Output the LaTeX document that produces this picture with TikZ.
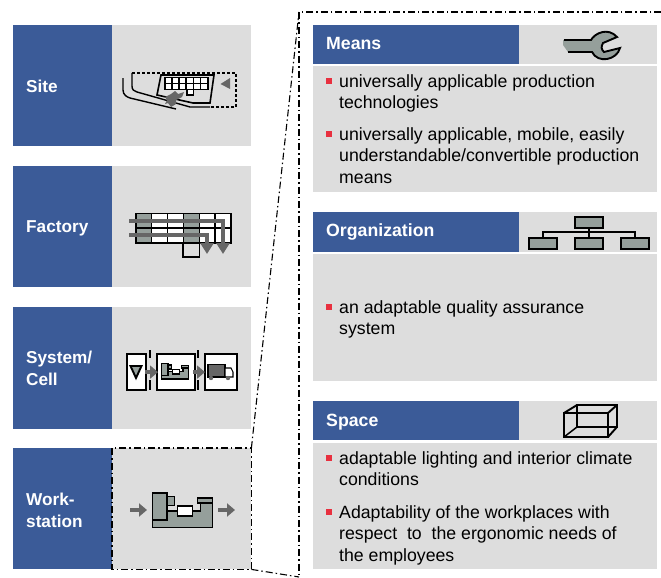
\documentclass[tikz,border=0pt]{standalone}
\usepackage{fontspec}
\setmainfont{Liberation Sans}
\usetikzlibrary{arrows.meta}
\definecolor{panelblue}{HTML}{3B5B98}
\definecolor{panelgrey}{HTML}{DDDDDD}
\definecolor{icongrey}{HTML}{959F9B}
\definecolor{arrowgrey}{HTML}{666666}
\definecolor{bulletred}{HTML}{E8303F}
\tikzset{
  bluebox/.style = {fill = panelblue, anchor = north west, inner sep = 0pt},
  greybox/.style = {fill = panelgrey, anchor = north west, inner sep = 0pt},
  sidelabel/.style = {anchor = west, inner sep = 0pt, align = left, text = white, font = \fontsize{17.2}{22}\selectfont\bfseries},
  headlabel/.style = {anchor = west, inner sep = 0pt, text = white, font = \fontsize{17.7}{20}\selectfont\bfseries},
  bodytext/.style = {anchor = north west, inner sep = 0pt, align = left, font = \fontsize{17.7}{21.8}\selectfont},
  bulletmark/.style = {fill = bulletred, minimum size = 5.5pt, inner sep = 0pt},
  icon/.style = {draw = black, line width = 1.9pt, line join = miter},
  thinicon/.style = {draw = black, line width = 1.5pt},
  orgbox/.style = {draw, line width = 2.2pt, fill = icongrey, anchor = north west, minimum width = 28pt, minimum height = 11pt, inner sep = 0pt},
  cellbox/.style = {draw, line width = 2.2pt, fill = white, anchor = north west, minimum height = 36pt, inner sep = 0pt},
  flowarrow/.style = {draw = arrowgrey, line width = 4.5pt, -{Triangle[length = 8pt, width = 13pt]}},
  beltarrow/.style = {draw = arrowgrey, line width = 4pt, -{Triangle[length = 11pt, width = 13pt]}},
  callout/.style = {draw = black, line width = 1.1pt, dash pattern = on 7pt off 3pt on 1.5pt off 3pt}
}
\newcommand{\machineicon}[4]{
  \begin{scope}[shift = {(#1,#2)}, scale = #3]
    \fill[icongrey] (0,18) -- (48,18) -- (48,10) -- (60,10) -- (60,34.5) -- (0,34.5) -- cycle;
    \draw[draw = black, line width = #4] (14.5,18) -- (48,18) -- (48,10);
    \draw[draw = black, line width = #4] (0,27) -- (0,34.5) -- (60,34.5) -- (60,5);
    \draw[draw = black, line width = #4, fill = icongrey] (0,0) rectangle (14.5,27);
    \draw[draw = black, line width = #4, fill = icongrey] (14.5,3.5) rectangle (22,12.5);
    \draw[draw = black, line width = #4, fill = white] (25,13) rectangle (40,23);
    \draw[draw = black, line width = #4, fill = icongrey] (45,5) rectangle (60,10);
  \end{scope}
}
\begin{document}
\begin{tikzpicture}[x = 1pt, y = -1pt]
\useasboundingbox (0,0) rectangle (661,578);
% left column
\node[bluebox, minimum width = 99pt, minimum height = 121pt] (siteblue) at (13,25) {};
\node[greybox, minimum width = 139pt, minimum height = 121pt] (sitegrey) at (112,25) {};
\node[sidelabel] (sitelabel) at (26,86) {Site};
\node[bluebox, minimum width = 99pt, minimum height = 121pt] (factoryblue) at (13,166) {};
\node[greybox, minimum width = 139pt, minimum height = 121pt] (factorygrey) at (112,166) {};
\node[sidelabel] (factorylabel) at (26,228.5) {Factory};
\node[bluebox, minimum width = 99pt, minimum height = 122pt] (systemblue) at (13,307) {};
\node[greybox, minimum width = 139pt, minimum height = 122pt] (systemgrey) at (112,307) {};
\node[sidelabel] (systemlabel) at (26,368.5) {System/\\Cell};
\node[bluebox, minimum width = 99pt, minimum height = 121pt] (stationblue) at (13,448) {};
\node[greybox, minimum width = 139pt, minimum height = 121pt] (stationgrey) at (112,448) {};
\node[sidelabel] (stationlabel) at (26,510.5) {Work-\\station};
% site icon
\draw[line width = 1.6pt, dash pattern = on 3pt off 2pt] (132,73) -- (236,73) -- (236,107) -- (210,107);
\draw[line width = 1.4pt] (132,73) -- (132,86) .. controls (132,90) and (134,91) .. (137,92) -- (190,107) -- (210,107);
\draw[line width = 1.4pt] (123,78) -- (123,90) .. controls (123,95) and (127,97) .. (130,98) -- (176,109);
\draw[line width = 1.6pt] (161,75) -- (157,95) -- (193,103) -- (210,103) -- (214,75) -- cycle;
\foreach \i in {0,...,5} {
  \foreach \j in {0,1} {
    \draw[line width = 1.8pt, fill = white] (165+7.1*\i,77.5+6*\j) rectangle +(7.1,6);
  }
}
\draw[line width = 1.8pt, fill = white] (187,89.5) rectangle (193.5,95);
\fill[arrowgrey] (230,78) -- (230,89) -- (220.5,84) -- cycle;
\fill[arrowgrey] (165,97) -- (171,94) -- (175,91) -- (178,94) -- (184,92) -- (182,97) -- (176,100) -- (176,104) -- (171,107) -- (168,103) -- (165,104) -- (167,100) -- cycle;
% factory icon
\foreach \i in {0,...,5} {
  \foreach \j in {0,1} {
    \draw[line width = 1.6pt, fill = white] (135.7+15.9*\i,213.5+14.7*\j) rectangle +(15.9,14.7);
  }
}
\foreach \i in {0,3} {
  \foreach \j in {0,1} {
    \draw[line width = 1.6pt, fill = icongrey] (135.7+15.9*\i,213.5+14.7*\j) rectangle +(15.9,14.7);
  }
}
\draw[line width = 1.6pt] (183,243) rectangle (199.3,257);
\coordinate (belta) at (129,221);
\coordinate (beltb) at (129,235);
\coordinate (beltc) at (223,254);
\coordinate (beltd) at (207,254);
\draw[beltarrow] (belta) -- (223,221) -- (beltc);
\draw[beltarrow] (beltb) -- (207,235) -- (beltd);
% system icon
\draw[line width = 2pt, dash pattern = on 8pt off 22pt on 10pt] (150,350) -- (150,390);
\draw[line width = 2pt, dash pattern = on 8pt off 22pt on 10pt] (198,350) -- (198,390);
\node[cellbox, minimum width = 19pt] (storebox) at (126,353) {};
\node[cellbox, minimum width = 38pt] (machinebox) at (156,353) {};
\node[cellbox, minimum width = 32pt] (truckbox) at (204,353) {};
\draw[icon, fill = icongrey] (130.5,366) -- (141.5,366) -- (136,378) -- cycle;
\machineicon{161.5}{363.5}{.45}{1.3pt}
\draw[line width = 1.3pt, fill = arrowgrey] (208,364.5) rectangle (225,377);
\draw[line width = 1.1pt, fill = white] (225,368) -- (231,368) -- (233,372) -- (233,377) -- (225,377) -- cycle;
\fill[arrowgrey] (211,378) circle (2.2pt) (228,378) circle (2.2pt);
\draw[flowarrow, shorten <= -2pt, shorten >= -2pt] (storebox.east) -- (machinebox.west);
\draw[flowarrow, shorten <= -3pt, shorten >= -1pt] (machinebox.east) -- (truckbox.west);
% workstation icon
\machineicon{152.5}{493}{1}{1.9pt}
\coordinate (stationinleft) at (130,510);
\coordinate (stationinright) at (147,510);
\coordinate (stationoutleft) at (218,510);
\coordinate (stationoutright) at (235,510);
\draw[flowarrow] (stationinleft) -- (stationinright);
\draw[flowarrow] (stationoutleft) -- (stationoutright);
% right column
\node[bluebox, minimum width = 206pt, minimum height = 39pt] (meansblue) at (313,25) {};
\node[greybox, minimum width = 138pt, minimum height = 39pt] (meansgrey) at (519,25) {};
\node[greybox, minimum width = 344pt, minimum height = 126pt] (meansbody) at (313,66) {};
\node[headlabel] (meanslabel) at (326,43) {Means};
\node[bluebox, minimum width = 206pt, minimum height = 40pt] (orgblue) at (313,212) {};
\node[greybox, minimum width = 138pt, minimum height = 40pt] (orggrey) at (519,212) {};
\node[greybox, minimum width = 344pt, minimum height = 127pt] (orgbody) at (313,254) {};
\node[headlabel] (orglabel) at (326,232) {Organization};
\node[bluebox, minimum width = 206pt, minimum height = 39pt] (spaceblue) at (313,401) {};
\node[greybox, minimum width = 138pt, minimum height = 39pt] (spacegrey) at (519,401) {};
\node[greybox, minimum width = 344pt, minimum height = 126pt] (spacebody) at (313,443) {};
\node[headlabel] (spacelabel) at (326,422) {Space};
% right texts
\node[bulletmark] (bulleta) at (329,81) {};
\node[bodytext] (texta) at (339,74) {universally applicable production\\technologies};
\node[bulletmark] (bulletb) at (329,134) {};
\node[bodytext] (textb) at (339,127) {universally applicable, mobile, easily\\understandable/convertible production\\means};
\node[bulletmark] (bulletc) at (329,307) {};
\node[bodytext] (textc) at (339,300) {an adaptable quality assurance\\system};
\node[bulletmark] (bulletd) at (329,458) {};
\node[bodytext] (textd) at (339,451) {adaptable lighting and interior climate\\conditions};
\node[bulletmark] (bullete) at (329,512) {};
\node[bodytext] (texte) at (339,505) {Adaptability of the workplaces with\\respect\ \ to\ \ the ergonomic needs of\\the employees};
% wrench
\fill[icongrey] (563,40) -- (591,40) -- (590,52) -- (568,52) -- (563,45) -- cycle;
\draw[icon, fill = icongrey] (564,40) -- (591,40) .. controls (595,33) and (608,27) .. (617,37) -- (603,43) .. controls (601,47) and (601,49) .. (604,52) -- (620,48) .. controls (617,60) and (598,64) .. (592,52) -- (568,52);
% org chart
\node[orgbox] (orgtop) at (574,216) {};
\node[orgbox] (orgleft) at (528,237) {};
\node[orgbox] (orgmid) at (574,237) {};
\node[orgbox] (orgright) at (620,237) {};
\draw[line width = 2pt] (orgtop.south) -- (orgmid.north);
\draw[line width = 2pt] (orgleft.north) -- ++(0,-5.5) -| (orgright.north);
% box
\draw[icon] (564,413) rectangle (608,437);
\draw[icon] (577,405) rectangle (617,427);
\draw[icon] (564,413) -- (577,405);
\draw[icon] (608,413) -- (617,405);
\draw[icon] (608,437) -- (617,427);
\draw[thinicon] (564,437) -- (577,427);
% callout
\coordinate (calloutcorner) at (299,12);
\coordinate (calloutright) at (661,12);
\coordinate (calloutfoot) at (299,578);
\coordinate (calloutlow) at (299,577);
\draw[callout] (stationgrey.north west) rectangle (stationgrey.south east);
\draw[callout] (calloutright) -- (calloutcorner) -- (calloutfoot);
\draw[callout] (stationgrey.north east) -- (calloutcorner);
\draw[callout] (stationgrey.south east) -- (calloutlow);
\end{tikzpicture}
\end{document}
